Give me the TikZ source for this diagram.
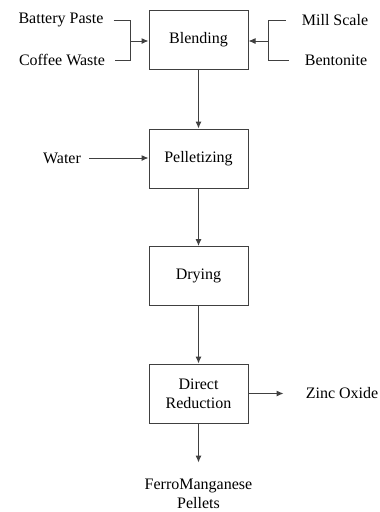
\documentclass[tikz,border=0pt]{standalone}
\usepackage{fontspec}
\setmainfont{Liberation Serif}
\usetikzlibrary{arrows.meta}
\begin{document}
\begin{tikzpicture}[x=1pt,y=-1pt,
  every node/.style={font=\fontsize{16}{19}\selectfont},
  proc/.style={draw=black!75,line width=1pt,minimum width=99pt,minimum height=59pt,inner sep=0pt,align=center},
  lbl/.style={inner sep=0pt,align=center},
  flow/.style={draw=black!75,line width=1pt,-{Latex[length=7pt,width=6pt]}},
  ln/.style={draw=black!75,line width=1pt}]
\useasboundingbox (0,0) rectangle (380,512);
\node[proc] (blend) at (198.5,40) {Blending};
\node[proc] (pell) at (198.5,158.5) {Pelletizing};
\node[proc] (dry) at (198.5,276) {Drying};
\node[proc] (dr) at (198.5,393.5) {Direct\\Reduction};
\node[lbl] (bp) at (61,20) {Battery Paste};
\node[lbl] (cw) at (62,60) {Coffee Waste};
\node[lbl] (ms) at (335,20) {Mill Scale};
\node[lbl] (bt) at (336,60) {Bentonite};
\node[lbl] (wa) at (62,158) {Water};
\node[lbl] (zo) at (342,393) {Zinc Oxide};
\node[lbl] (fm) at (198.5,494) {FerroManganese\\Pellets};
\coordinate (jl) at (130,41);
\coordinate (jr) at (268,41);
\draw[ln] ([xshift=10pt]bp.east) -| (jl);
\draw[ln] ([xshift=10pt]cw.east) -| (jl);
\draw[flow] (jl) -- (blend.west |- jl);
\draw[ln] ([xshift=-16pt]ms.west) -| (jr);
\draw[ln] ([xshift=-16pt]bt.west) -| (jr);
\draw[flow] (jr) -- (blend.east |- jr);
\draw[flow] (blend) -- (pell);
\draw[flow] (pell) -- (dry);
\draw[flow] (dry) -- (dr);
\draw[flow] ([xshift=8pt]wa.east) -- (pell.west |- wa);
\draw[flow] (dr.east) -- ++(35,0);
\draw[flow] (dr.south) -- ++(0,39);
\end{tikzpicture}
\end{document}
